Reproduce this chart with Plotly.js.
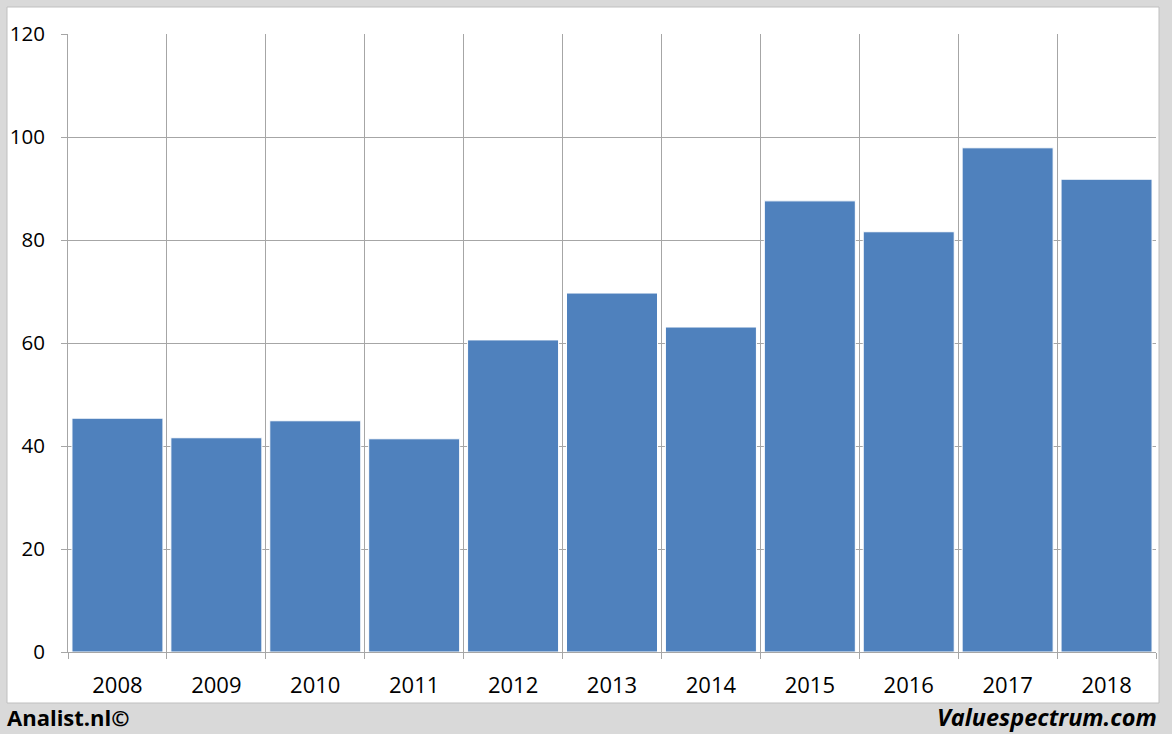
<!DOCTYPE html>
<html>
<head>
<meta charset="utf-8">
<script src="https://cdn.plot.ly/plotly-3.0.1.min.js"></script>
<style>
html,body{margin:0;padding:0;background:#d9d9d9;}
#chart{width:1172px;height:734px;}
</style>
</head>
<body>
<div id="chart"></div>
<script>
const years = ['2008','2009','2010','2011','2012','2013','2014','2015','2016','2017','2018'];
const values = [45.4, 41.6, 44.9, 41.4, 60.6, 69.7, 63.1, 87.6, 81.6, 97.9, 91.8];
const yTicks = [0, 20, 40, 60, 80, 100, 120];

const W = 1172, H = 734;
const L = 68, R = 16, T = 34, B = 82;
const pw = W - L - R, ph = H - T - B;
function px(x){ return (x - L) / pw; }
function py(y){ return (H - B - y) / ph; }

const trace = {
  type: 'bar',
  x: years,
  y: values,
  marker: {color: '#4f81bd', line: {color: '#ffffff', width: 1}},
  hoverinfo: 'x+y'
};

const fontFam = '"Open Sans", "DejaVu Sans", sans-serif';

const layout = {
  width: W, height: H,
  margin: {l: L, r: R, t: T, b: B, pad: 0},
  paper_bgcolor: '#d9d9d9',
  plot_bgcolor: '#ffffff',
  bargap: 0.08,
  showlegend: false,
  xaxis: {
    type: 'category',
    tickson: 'boundaries',
    ticks: 'outside', ticklen: 6, tickcolor: '#a6a6a6', tickwidth: 1,
    showgrid: true, gridcolor: '#a6a6a6', gridwidth: 1,
    showline: true, linecolor: '#a6a6a6', linewidth: 1,
    tickfont: {family: fontFam, size: 22, color: '#000000'},
    ticklabelstandoff: 14,
    zeroline: false, mirror: false
  },
  yaxis: {
    range: [0, 120],
    tickvals: yTicks,
    ticktext: yTicks.map(String),
    ticks: 'outside', ticklen: 6, tickcolor: '#a6a6a6', tickwidth: 1,
    showgrid: true, gridcolor: '#a6a6a6', gridwidth: 1,
    showline: true, linecolor: '#a6a6a6', linewidth: 1,
    tickfont: {family: fontFam, size: 20.5, color: '#000000'},
    ticklabelstandoff: 12,
    zeroline: false
  },
  shapes: [{
    type: 'rect', xref: 'paper', yref: 'paper', layer: 'below',
    x0: px(7), x1: px(1159), y0: py(703), y1: py(7),
    fillcolor: '#ffffff', line: {color: '#bfbfbf', width: 1}
  }],
  annotations: [
    {text: '<b>Analist.nl©</b>', xref: 'paper', yref: 'paper', x: px(5), y: py(717),
     xanchor: 'left', yanchor: 'middle', showarrow: false,
     font: {family: fontFam, size: 22, color: '#000000'}},
    {text: '<b><i>Valuespectrum.com</i></b>', xref: 'paper', yref: 'paper', x: px(1159), y: py(717),
     xanchor: 'right', yanchor: 'middle', showarrow: false,
     font: {family: fontFam, size: 23.5, color: '#000000'}}
  ]
};

Plotly.newPlot('chart', [trace], layout, {displayModeBar: false, staticPlot: true});
</script>
</body>
</html>
